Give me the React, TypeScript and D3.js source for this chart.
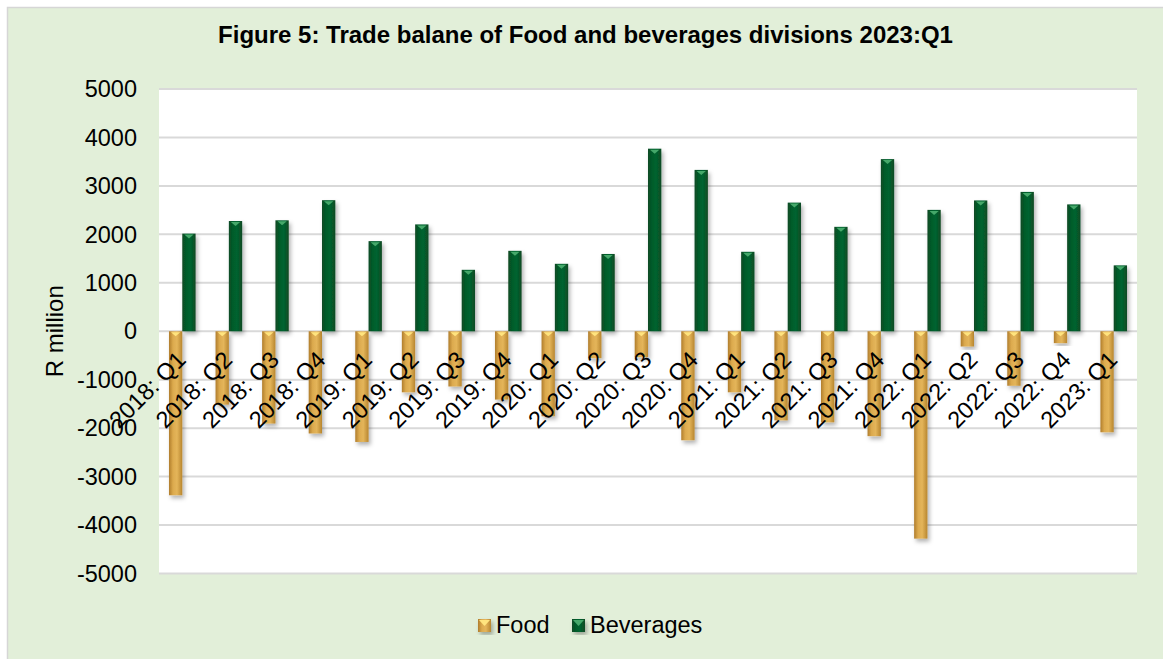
import React from "react";
import * as d3 from "d3";

const categories = [
  "2018: Q1", "2018: Q2", "2018: Q3", "2018: Q4",
  "2019: Q1", "2019: Q2", "2019: Q3", "2019: Q4",
  "2020: Q1", "2020: Q2", "2020: Q3", "2020: Q4",
  "2021: Q1", "2021: Q2", "2021: Q3", "2021: Q4",
  "2022: Q1", "2022: Q2", "2022: Q3", "2022: Q4",
  "2023: Q1",
];
const food = [
  -3385, -1515, -1905, -2110,
  -2285, -1260, -1140, -1410,
  -1755, -555, -535, -2250,
  -1260, -1840, -1880, -2165,
  -4280, -315, -1125, -245,
  -2085,
];
const beverages = [
  2015, 2275, 2290, 2705,
  1860, 2205, 1268, 1660,
  1392, 1595, 3768, 3330,
  1640, 2655, 2155, 3553,
  2505, 2700, 2876, 2618,
  1360,
];
const yTicks = [5000, 4000, 3000, 2000, 1000, 0, -1000, -2000, -3000, -4000, -5000];
const seriesNames = ["Food", "Beverages"];
const title = "Figure 5: Trade balane of Food and beverages divisions 2023:Q1";
const yTitle = "R million";

const W = 1163;
const H = 659;
const FONT = "'Liberation Sans', Arial, sans-serif";

const plot = { left: 159, right: 1137, top: 89, bottom: 573.5 };

export default function App() {
  const x = d3.scaleBand<string>().domain(categories).range([plot.left, plot.right]).paddingInner(0).paddingOuter(0);
  const xs = d3.scaleBand<string>().domain(seriesNames).range([0, x.bandwidth()]).paddingInner(0).paddingOuter(0.75);
  const y = d3.scaleLinear().domain([-5000, 5000]).range([plot.bottom, plot.top]);
  const bw = xs.bandwidth();

  const renderBar = (key: string, cx: number, v: number, series: string) => {
    const y0 = y(0);
    const y1 = y(v);
    const top = Math.min(y0, y1);
    const h = Math.abs(y1 - y0);
    const isFood = series === "Food";
    const grad = isFood ? "url(#gFood)" : "url(#gBev)";
    const tri = isFood ? "#FFE47E" : "#45A86A";
    return (
      <g key={key} filter="url(#shadow)">
        <rect x={cx} y={top} width={bw} height={h} fill={grad} />
        <polygon
          points={`${cx + 2},${top + 1} ${cx + bw - 2},${top + 1} ${cx + bw / 2},${top + 5}`}
          fill={tri}
        />
      </g>
    );
  };

  const legendItems = [
    { name: "Food", sx: 478, tx: 496 },
    { name: "Beverages", sx: 572, tx: 590 },
  ];

  return (
    <svg
      width={W}
      height={H}
      style={{ position: "absolute", left: 0, top: 0, fontFamily: FONT }}
    >
      <defs>
        <linearGradient id="gFood" x1="0" x2="1" y1="0" y2="0">
          <stop offset="0" stopColor="#B07D2C" />
          <stop offset="0.3" stopColor="#DCAA4E" />
          <stop offset="0.6" stopColor="#E4B55A" />
          <stop offset="1" stopColor="#B8862F" />
        </linearGradient>
        <linearGradient id="gBev" x1="0" x2="1" y1="0" y2="0">
          <stop offset="0" stopColor="#0E4A24" />
          <stop offset="0.3" stopColor="#005C2A" />
          <stop offset="0.6" stopColor="#006430" />
          <stop offset="1" stopColor="#0E4A24" />
        </linearGradient>
        <filter id="shadow" x="-50%" y="-10%" width="200%" height="130%">
          <feDropShadow dx="2" dy="3" stdDeviation="2" floodColor="#000" floodOpacity="0.3" />
        </filter>
      </defs>

      <rect x={7.5} y={7.5} width={W + 10} height={H + 10} fill="#E2EFD9" stroke="#D6D6D6" strokeWidth={1.5} />

      <text x={585.5} y={43} textAnchor="middle" fontSize={24} fontWeight="bold" fill="#000">
        {title}
      </text>

      <rect x={plot.left} y={plot.top} width={plot.right - plot.left} height={plot.bottom - plot.top} fill="#FFFFFF" />

      {yTicks.map((t) => (
        <line key={"g" + t} x1={plot.left} x2={plot.right} y1={y(t)} y2={y(t)} stroke="#D9D9D9" strokeWidth={2} />
      ))}

      {yTicks.map((t) => (
        <text key={"t" + t} x={137} y={y(t)} dy="0.35em" textAnchor="end" fontSize={23.5} fill="#000">
          {t}
        </text>
      ))}

      <text
        transform={`translate(63, ${(plot.top + plot.bottom) / 2}) rotate(-90)`}
        textAnchor="middle"
        fontSize={24}
        fill="#000"
      >
        {yTitle}
      </text>

      {categories.map((c, i) => {
        const x0 = x(c)!;
        return (
          <g key={c}>
            {renderBar("f" + i, x0 + xs("Food")!, food[i], "Food")}
            {renderBar("b" + i, x0 + xs("Beverages")!, beverages[i], "Beverages")}
          </g>
        );
      })}

      {categories.map((c) => {
        const cx = x(c)! + x.bandwidth() / 2;
        return (
          <text
            key={"xl" + c}
            transform={`translate(${cx + 5}, ${y(0) + 30}) rotate(-45)`}
            textAnchor="end"
            fontSize={23.5}
            fill="#000"
          >
            {c}
          </text>
        );
      })}

      {legendItems.map((it) => (
        <g key={it.name}>
          <g filter="url(#shadow)">
            <rect x={it.sx} y={619} width={13} height={13} fill={it.name === "Food" ? "url(#gFood)" : "url(#gBev)"} />
            <polygon
              points={`${it.sx + 1},${620} ${it.sx + 12},${620} ${it.sx + 6.5},${626}`}
              fill={it.name === "Food" ? "#FFE47E" : "#45A86A"}
            />
          </g>
          <text x={it.tx} y={633} fontSize={23.5} fill="#000">
            {it.name}
          </text>
        </g>
      ))}
    </svg>
  );
}
